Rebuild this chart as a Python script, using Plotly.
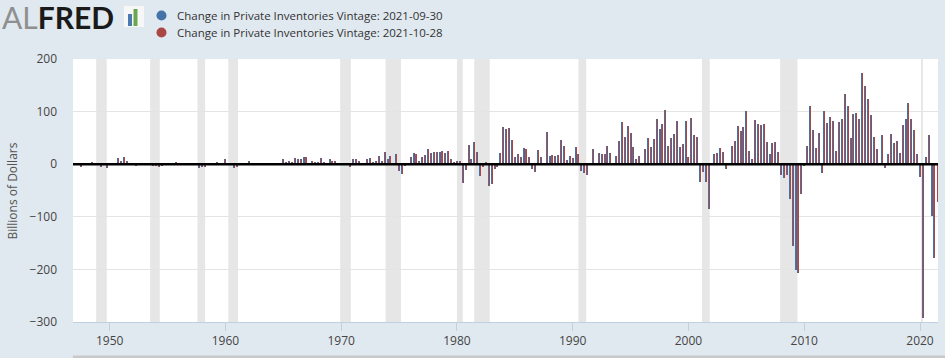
import pandas as pd
import plotly.graph_objects as go

# Quarterly values (billions of dollars), starting 1947Q1
v1940s = [0, -2, -5, 0, 0, 3, 5, 3, 0, -6, 0, -7]
v1950s = [0, 0, 0, 11, 7, 13, 7, 0, 0, -3, 3, 3, 0, 0, 0, -3, -3, -5, -3, 0,
          0, 0, 0, 5, 3, 0, 0, 0, 0, 0, 0, -8, -5, -5, 0, 3, 0, 5, 0, 0]
v1960s = [9, 0, 0, -8, -5, 0, 3, 3, 7, 3, 3, 0, 3, 0, 3, 0, 0, 0, 0, 0,
          9, 4, 6, 4, 11, 9, 9, 13, 13, 3, 7, 5, 5, 11, 5, 3, 9, 7, 7, 3]
v1970s = [0, 0, 0, -6, 9, 9, 7, 0, 0, 9, 11, 5, 7, 15, 7, 23, 9, 15, 3, 19,
          -12, -18, -4, 0, 13, 21, 19, 7, 13, 17, 28, 21, 23, 23, 23, 26, 21, 25, 9, 5]
v1980s = [7, 6, -36, -11, 37, 10, 42, 23, -22, -5, 4, -42, -38, -9, -5, 21, 71, 67, 69, 46,
          13, 19, 13, 31, 29, 13, -9, -15, 27, 13, 0, 62, 15, 17, 15, 17, 46, 35, 8, 15]
v1990s = [12, 33, 19, -13, -17, -21, 0, 29, 0, 21, 19, 19, 35, 21, 3, 15, 44, 80, 51, 72,
          59, 32, 9, 15, 3, 28, 49, 32, 47, 86, 67, 76, 103, 34, 49, 57, 82, 32, 38, 82]
v2000s = [13, 88, 55, 51, -33, -14, -33, -85, 0, 19, 22, 30, 24, -10, 0, 34, 44, 72, 63, 71,
          101, 26, 9, 84, 76, 74, 76, 42, 19, 40, 42, 24, -20, -26, -20, -66, -156, -201, -207, -56]
v2010s = [-4, 34, 111, 65, 30, 59, -16, 101, 78, 90, 82, 26, 80, 86, 134, 111, 49, 96, 97, 86,
          174, 149, 124, 94, 51, 28, 0, 55, -8, 19, 57, 40, 44, 22, 74, 86, 117, 86, 65, 19]
v2020s = [-24, -293, 13, 55, -99, -179]
v2021q3_new = [-71]  # only in the 2021-10-28 vintage

series_names = ["Change in Private Inventories Vintage: 2021-09-30",
                "Change in Private Inventories Vintage: 2021-10-28"]
series_colors = ["#4572A7", "#AA4643"]

vals_old = v1940s + v1950s + v1960s + v1970s + v1980s + v1990s + v2000s + v2010s + v2020s
vals_new = vals_old + v2021q3_new
dates_new = pd.date_range("1947-01-01", periods=len(vals_new), freq="QS").strftime("%Y-%m-%d").tolist()
dates_old = dates_new[:len(vals_old)]

recessions = [("1948-11-01", "1949-10-01"), ("1953-07-01", "1954-05-01"),
              ("1957-08-01", "1958-04-01"), ("1960-04-01", "1961-02-01"),
              ("1969-12-01", "1970-11-01"), ("1973-11-01", "1975-03-01"),
              ("1980-01-01", "1980-07-01"), ("1981-07-01", "1982-11-01"),
              ("1990-07-01", "1991-03-01"), ("2001-03-01", "2001-11-01"),
              ("2007-12-01", "2009-06-01"), ("2020-02-01", "2020-04-01")]

W, H = 945, 358
ML, MR, MT, MB = 73, 7, 59, 36
PW, PH = W - ML - MR, H - MT - MB


def px2x(px):
    return (px - ML) / PW


def px2y(py):
    return (H - MB - py) / PH


def rgba(hexc, a):
    h = hexc.lstrip("#")
    return "rgba(%d,%d,%d,%s)" % (int(h[0:2], 16), int(h[2:4], 16), int(h[4:6], 16), a)


fig = go.Figure()
fig.add_trace(go.Bar(x=dates_old, y=vals_old, name=series_names[0],
                     marker=dict(color=rgba(series_colors[0], 0.995), line=dict(width=0)),
                     showlegend=False))
fig.add_trace(go.Bar(x=dates_new, y=vals_new, name=series_names[1],
                     marker=dict(color=rgba(series_colors[1], 0.995), line=dict(width=0)),
                     showlegend=False))

shapes = []
for a, b in recessions:
    shapes.append(dict(type="rect", xref="x", yref="paper", x0=a, x1=b, y0=0, y1=1,
                       fillcolor="#e6e6e6", line=dict(width=0), layer="between"))
# zero line
shapes.append(dict(type="line", xref="paper", yref="y", x0=0, x1=1, y0=0, y1=0,
                   line=dict(color="black", width=2.5), layer="above"))
# legend circles
for i, c in enumerate(series_colors):
    cy = 15.5 + i * 17
    shapes.append(dict(type="circle", xref="paper", yref="paper",
                       x0=px2x(156.5), x1=px2x(166.5), y0=px2y(cy + 5), y1=px2y(cy - 5),
                       fillcolor=c, line=dict(width=0)))
# logo icon
shapes.append(dict(type="rect", xref="paper", yref="paper", x0=px2x(124), x1=px2x(144),
                   y0=px2y(27), y1=px2y(6), fillcolor="#f7f7f7", line=dict(width=0)))
shapes.append(dict(type="rect", xref="paper", yref="paper", x0=px2x(128), x1=px2x(132),
                   y0=px2y(26), y1=px2y(14), fillcolor="#4a7ab0", line=dict(width=0)))
shapes.append(dict(type="rect", xref="paper", yref="paper", x0=px2x(133.5), x1=px2x(137.5),
                   y0=px2y(26), y1=px2y(9), fillcolor="#6aa84f", line=dict(width=0)))
# bottom strip
shapes.append(dict(type="rect", xref="paper", yref="paper", x0=0, x1=px2x(945),
                   y0=px2y(358), y1=px2y(355.5), fillcolor="#c9c9c9", line=dict(width=0)))

annotations = []
for i, nm in enumerate(series_names):
    annotations.append(dict(xref="paper", yref="paper", x=px2x(175), y=px2y(15.5 + i * 17),
                            xanchor="left", yanchor="middle", showarrow=False, text=nm,
                            font=dict(family="Open Sans", size=11.5, color="#333333")))
annotations.append(dict(xref="paper", yref="paper", x=px2x(0), y=px2y(17), xanchor="left",
                        yanchor="middle", showarrow=False,
                        text="<span style='color:#8f8f8f'>AL</span><b>FRED</b>",
                        font=dict(family="Lato", size=30, color="#1a1a1a")))
annotations.append(dict(xref="paper", yref="paper", x=px2x(12), y=0.5, xanchor="center",
                        yanchor="middle", showarrow=False, text="Billions of Dollars",
                        textangle=-90, font=dict(family="Open Sans", size=12, color="#555555")))

fig.update_layout(
    width=W, height=H, autosize=False,
    margin=dict(l=ML, r=MR, t=MT, b=MB, pad=0),
    paper_bgcolor="#e1e9f0", plot_bgcolor="white",
    barmode="group", bargap=0.3, bargroupgap=0,
    showlegend=False,
    shapes=shapes, annotations=annotations,
    font=dict(family="Open Sans", size=12, color="#444444"),
)
fig.update_xaxes(type="date", range=["1946-11-01", "2021-07-22"],
                 tickvals=[f"{y}-01-01" for y in range(1950, 2021, 10)],
                 ticktext=[str(y) for y in range(1950, 2021, 10)],
                 ticks="outside", ticklen=8, tickcolor="#c0d0e0", tickwidth=1,
                 showline=True, linecolor="#c0d0e0", linewidth=1,
                 showgrid=False, zeroline=False, automargin=False,
                 tickfont=dict(family="Open Sans", size=12, color="#444444"))
fig.update_yaxes(range=[-300, 200], tickvals=[-300, -200, -100, 0, 100, 200],
                 showgrid=True, gridcolor="#e4e4e4", gridwidth=1,
                 zeroline=False, showline=False, ticks="", ticklabelstandoff=15,
                 automargin=False,
                 tickfont=dict(family="Open Sans", size=12, color="#444444"))

fig.write_html("out.html", config={"displayModeBar": False},
               post_script="document.body.style.margin='0';document.body.style.padding='0';"
                           "document.body.style.background='#e1e9f0';"
                           "document.querySelectorAll('.bars path').forEach(function(p){"
                           "p.setAttribute('shape-rendering','crispEdges');});")
